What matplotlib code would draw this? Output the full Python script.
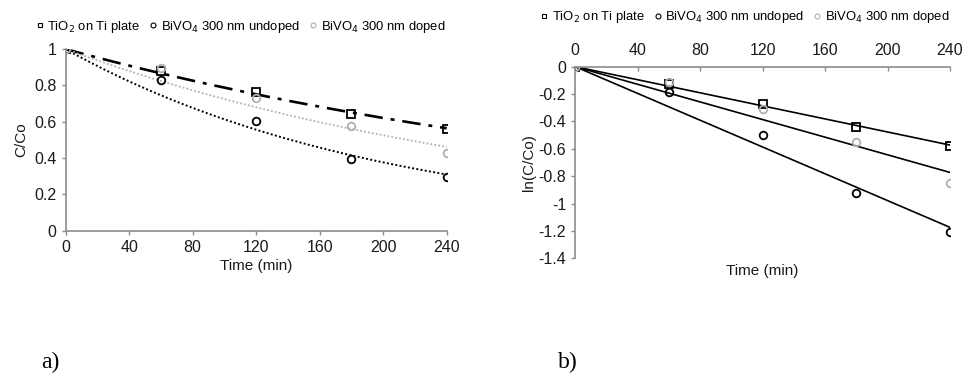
import numpy as np
import matplotlib
matplotlib.use("Agg")
import matplotlib.pyplot as plt
from matplotlib.ticker import FuncFormatter

plt.rcParams['font.family'] = ['Liberation Sans', 'DejaVu Sans']
plt.rcParams['axes.unicode_minus'] = False

# sampling times (min) and measured C/Co
time_min = [0, 60, 120, 180, 240]
tio2 = [1.0, 0.882, 0.763, 0.645, 0.561]
bivo4_undoped = [1.0, 0.831, 0.605, 0.397, 0.298]
bivo4_doped = [1.0, 0.895, 0.733, 0.577, 0.426]

labels = ["TiO$_2$ on Ti plate", "BiVO$_4$ 300 nm undoped", "BiVO$_4$ 300 nm doped"]
x_ticks = [0, 40, 80, 120, 160, 200, 240]
ya_ticks = [0, 0.2, 0.4, 0.6, 0.8, 1.0]
yb_ticks = [0, -0.2, -0.4, -0.6, -0.8, -1.0, -1.2, -1.4]

gray_axis = "#8c8c8c"
light = "#b0b0b0"
txt = "#1a1a1a"
tick_fs = 11.5
label_fs = 11


def first_order_k(t, c):
    # exponential trendline forced through C/Co = 1 at t = 0
    t = np.asarray(t, float)
    y = np.log(np.asarray(c, float))
    return np.sum(t * y) / np.sum(t * t)


def fmt(v, pos):
    s = ("%.1f" % v).rstrip("0").rstrip(".")
    return "0" if s in ("-0", "") else s


def add_legend(ax, x, y):
    leg = ax.legend(loc="center", bbox_to_anchor=(x, y),
                    bbox_transform=fig.transFigure, ncol=3, frameon=False,
                    fontsize=9.4, markerscale=0.65, handlelength=0.6,
                    handletextpad=0.3, columnspacing=0.7)
    for h in leg.legend_handles:
        h.set_markeredgewidth(0.8)
    return leg


t = np.asarray(time_min, float)
t_fit = np.linspace(0, 240, 200)
series = [
    (tio2, dict(marker="s", mec="black")),
    (bivo4_undoped, dict(marker="o", mec="black")),
    (bivo4_doped, dict(marker="o", mec=light)),
]

fig = plt.figure(figsize=(9.66, 3.78), dpi=100)

# ---------- panel a ----------
ax_a = fig.add_axes([0.068, 0.390, 0.3944, 0.480])
styles_a = [dict(color="black", linestyle=(0, (7, 3, 1.5, 3)), linewidth=1.9),
            dict(color="black", linestyle=(0, (1, 1.2)), linewidth=1.4),
            dict(color=light, linestyle=(0, (1, 1.2)), linewidth=1.3)]
for (c, mk), st, lab in zip(series, styles_a, labels):
    k = first_order_k(time_min, c)
    ax_a.plot(t_fit, np.exp(k * t_fit), zorder=2, **st)
    ax_a.plot(t, c, linestyle="none", markersize=5.5, mfc="none",
              mew=1.3, label=lab, zorder=3, **mk)

ax_a.set_xlim(0, 240)
ax_a.set_ylim(0, 1)
ax_a.set_xticks(x_ticks)
ax_a.set_yticks(ya_ticks)
ax_a.yaxis.set_major_formatter(FuncFormatter(fmt))
ax_a.set_xlabel("Time (min)", fontsize=label_fs, color=txt, labelpad=3)
ax_a.set_ylabel("C/Co", fontsize=label_fs, color=txt, labelpad=4)
for s in ["top", "right"]:
    ax_a.spines[s].set_visible(False)
for s in ["left", "bottom"]:
    ax_a.spines[s].set_color(gray_axis)
    ax_a.spines[s].set_linewidth(1.2)
ax_a.tick_params(axis="both", labelsize=tick_fs, colors=gray_axis, labelcolor=txt,
                 length=3, width=1)
add_legend(ax_a, 0.249, 0.929)

# ---------- panel b ----------
ax_b = fig.add_axes([0.5955, 0.3167, 0.3879, 0.5069])
for (c, mk), lab in zip(series, labels):
    ln_c = np.log(np.asarray(c, float))
    k = first_order_k(time_min, c)
    ax_b.plot(t_fit, k * t_fit, color="black", linewidth=1.2, zorder=2)
    ax_b.plot(t, ln_c, linestyle="none", markersize=5.5, mfc="none",
              mew=1.3, label=lab, zorder=3, **mk)

ax_b.set_xlim(0, 240)
ax_b.set_ylim(-1.4, 0)
ax_b.set_xticks(x_ticks)
ax_b.set_yticks(yb_ticks)
ax_b.yaxis.set_major_formatter(FuncFormatter(fmt))
ax_b.xaxis.tick_top()
ax_b.xaxis.set_label_position("bottom")
ax_b.set_xlabel("Time (min)", fontsize=label_fs, color=txt, labelpad=4)
ax_b.set_ylabel("ln(C/Co)", fontsize=label_fs, color=txt, labelpad=2)
for s in ["bottom", "right"]:
    ax_b.spines[s].set_visible(False)
for s in ["left", "top"]:
    ax_b.spines[s].set_color(gray_axis)
    ax_b.spines[s].set_linewidth(1.2)
ax_b.tick_params(axis="y", labelsize=tick_fs, colors=gray_axis, labelcolor=txt,
                 length=3, width=1, direction="out")
ax_b.tick_params(axis="x", labelsize=tick_fs, colors=gray_axis, labelcolor=txt,
                 length=3, width=1, direction="in", pad=6)
add_legend(ax_b, 0.771, 0.954)

# panel letters
fig.text(0.052, 0.042, "a)", fontsize=17, family=["Liberation Serif", "DejaVu Serif"],
         ha="center", va="center")
fig.text(0.588, 0.042, "b)", fontsize=17, family=["Liberation Serif", "DejaVu Serif"],
         ha="center", va="center")

fig.savefig("out.png", dpi=100, facecolor="white")
